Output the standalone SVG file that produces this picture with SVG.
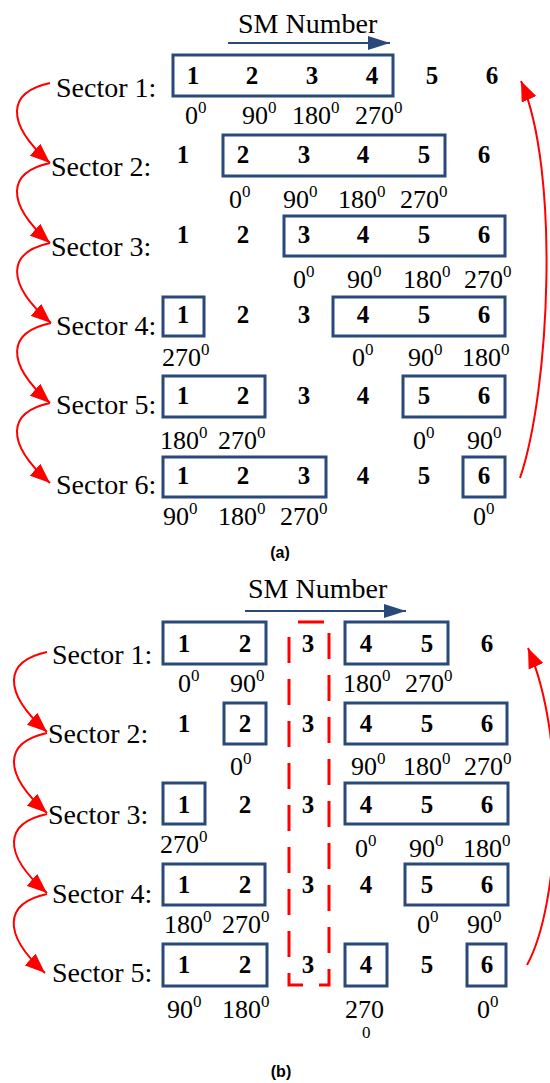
<svg xmlns="http://www.w3.org/2000/svg" width="550" height="1083" viewBox="0 0 550 1083">
<style>
.lbl{font-family:"Liberation Serif","Times New Roman",serif;font-size:28px;fill:#000}
.t{font-family:"Liberation Serif","Times New Roman",serif;font-size:28px;fill:#000}
.n{font-family:"Liberation Serif","Times New Roman",serif;font-size:25px;font-weight:bold;fill:#000;text-anchor:middle}
.g{font-family:"Liberation Serif","Times New Roman",serif;font-size:26px;fill:#000}
.s{font-size:17px}
.box{fill:none;stroke:#29497b;stroke-width:3}
.cap{font-family:"Liberation Sans",Arial,sans-serif;font-size:16px;font-weight:bold;fill:#000;text-anchor:middle}
.red{fill:none;stroke:#ff0000;stroke-width:2}
.blue{fill:none;stroke:#29497b;stroke-width:2}
</style>
<defs>
<marker id="ra" markerUnits="userSpaceOnUse" markerWidth="20" markerHeight="16" refX="20" refY="8" orient="auto">
<path d="M0,0 L20,8 L0,16 z" fill="#ff0000"/>
</marker>
<marker id="ba" markerUnits="userSpaceOnUse" markerWidth="22" markerHeight="14" refX="22" refY="7" orient="auto">
<path d="M0,0 L22,7 L0,14 z" fill="#29497b"/>
</marker>
</defs>

<!-- Part (a) -->
<g id="a-title">
<text class="t" x="238" y="33">SM Number</text>
</g>
<g id="a-row1">
<text class="lbl" x="56" y="97">Sector 1:</text>
<rect class="box" x="173" y="55" width="220" height="41"/>
<text class="n" x="193" y="84">1</text><text class="n" x="252" y="84">2</text><text class="n" x="312" y="84">3</text><text class="n" x="372" y="84">4</text><text class="n" x="432" y="84">5</text><text class="n" x="492" y="84">6</text>
<text class="g" x="185" y="124">0<tspan class="s" dy="-11">0</tspan></text>
<text class="g" x="242" y="124">90<tspan class="s" dy="-11">0</tspan></text>
<text class="g" x="292" y="124">180<tspan class="s" dy="-11">0</tspan></text>
<text class="g" x="355" y="124">270<tspan class="s" dy="-11">0</tspan></text>
</g>
<g id="a-row2">
<text class="lbl" x="51" y="176">Sector 2:</text>
<rect class="box" x="223" y="135" width="222" height="41"/>
<text class="n" x="183" y="163">1</text><text class="n" x="243" y="163">2</text><text class="n" x="304" y="163">3</text><text class="n" x="363" y="163">4</text><text class="n" x="424" y="163">5</text><text class="n" x="484" y="163">6</text>
<text class="g" x="229" y="208">0<tspan class="s" dy="-11">0</tspan></text>
<text class="g" x="283" y="208">90<tspan class="s" dy="-11">0</tspan></text>
<text class="g" x="338" y="208">180<tspan class="s" dy="-11">0</tspan></text>
<text class="g" x="400" y="208">270<tspan class="s" dy="-11">0</tspan></text>
</g>
<g id="a-row3">
<text class="lbl" x="51" y="256">Sector 3:</text>
<rect class="box" x="284" y="216" width="221" height="40"/>
<text class="n" x="183" y="243">1</text><text class="n" x="243" y="243">2</text><text class="n" x="304" y="243">3</text><text class="n" x="363" y="243">4</text><text class="n" x="424" y="243">5</text><text class="n" x="484" y="243">6</text>
<text class="g" x="293" y="288">0<tspan class="s" dy="-11">0</tspan></text>
<text class="g" x="347" y="288">90<tspan class="s" dy="-11">0</tspan></text>
<text class="g" x="403" y="288">180<tspan class="s" dy="-11">0</tspan></text>
<text class="g" x="464" y="288">270<tspan class="s" dy="-11">0</tspan></text>
</g>
<g id="a-row4">
<text class="lbl" x="56" y="335">Sector 4:</text>
<rect class="box" x="163" y="297" width="41" height="39"/>
<rect class="box" x="333" y="297" width="172" height="39"/>
<text class="n" x="183" y="323">1</text><text class="n" x="243" y="323">2</text><text class="n" x="304" y="323">3</text><text class="n" x="363" y="323">4</text><text class="n" x="424" y="323">5</text><text class="n" x="484" y="323">6</text>
<text class="g" x="162" y="366">270<tspan class="s" dy="-11">0</tspan></text>
<text class="g" x="352" y="366">0<tspan class="s" dy="-11">0</tspan></text>
<text class="g" x="408" y="366">90<tspan class="s" dy="-11">0</tspan></text>
<text class="g" x="462" y="366">180<tspan class="s" dy="-11">0</tspan></text>
</g>
<g id="a-row5">
<text class="lbl" x="56" y="414">Sector 5:</text>
<rect class="box" x="163" y="376" width="102" height="41"/>
<rect class="box" x="403" y="376" width="102" height="41"/>
<text class="n" x="183" y="404">1</text><text class="n" x="243" y="404">2</text><text class="n" x="304" y="404">3</text><text class="n" x="363" y="404">4</text><text class="n" x="424" y="404">5</text><text class="n" x="484" y="404">6</text>
<text class="g" x="160" y="449">180<tspan class="s" dy="-11">0</tspan></text>
<text class="g" x="218" y="449">270<tspan class="s" dy="-11">0</tspan></text>
<text class="g" x="413" y="449">0<tspan class="s" dy="-11">0</tspan></text>
<text class="g" x="467" y="449">90<tspan class="s" dy="-11">0</tspan></text>
</g>
<g id="a-row6">
<text class="lbl" x="56" y="494">Sector 6:</text>
<rect class="box" x="163" y="457" width="163" height="40"/>
<rect class="box" x="463" y="457" width="42" height="40"/>
<text class="n" x="183" y="484">1</text><text class="n" x="243" y="484">2</text><text class="n" x="304" y="484">3</text><text class="n" x="363" y="484">4</text><text class="n" x="424" y="484">5</text><text class="n" x="484" y="484">6</text>
<text class="g" x="163" y="525">90<tspan class="s" dy="-11">0</tspan></text>
<text class="g" x="218" y="525">180<tspan class="s" dy="-11">0</tspan></text>
<text class="g" x="280" y="525">270<tspan class="s" dy="-11">0</tspan></text>
<text class="g" x="473" y="525">0<tspan class="s" dy="-11">0</tspan></text>
</g>
<text class="cap" x="280" y="558">(a)</text>

<!-- Part (b) -->
<g id="b-title">
<text class="t" x="248" y="598">SM Number</text>
</g>
<g id="b-group3">
<rect x="289" y="622" width="40" height="363" fill="none" stroke="#ff0000" stroke-width="3" stroke-dasharray="26 16" stroke-dashoffset="33"/>
</g>
<g id="b-row1">
<text class="lbl" x="52" y="664">Sector 1:</text>
<rect class="box" x="163" y="622" width="103" height="42"/>
<rect class="box" x="345" y="622" width="103" height="42"/>
<text class="n" x="184" y="652">1</text><text class="n" x="245" y="652">2</text><text class="n" x="308" y="652">3</text><text class="n" x="366" y="652">4</text><text class="n" x="427" y="652">5</text><text class="n" x="487" y="652">6</text>
<text class="g" x="178" y="692">0<tspan class="s" dy="-11">0</tspan></text>
<text class="g" x="230" y="692">90<tspan class="s" dy="-11">0</tspan></text>
<text class="g" x="343" y="692">180<tspan class="s" dy="-11">0</tspan></text>
<text class="g" x="405" y="692">270<tspan class="s" dy="-11">0</tspan></text>
</g>
<g id="b-row2">
<text class="lbl" x="48" y="743">Sector 2:</text>
<rect class="box" x="224" y="703" width="42" height="41"/>
<rect class="box" x="345" y="703" width="162" height="41"/>
<text class="n" x="184" y="732">1</text><text class="n" x="245" y="732">2</text><text class="n" x="308" y="732">3</text><text class="n" x="366" y="732">4</text><text class="n" x="427" y="732">5</text><text class="n" x="487" y="732">6</text>
<text class="g" x="230" y="775">0<tspan class="s" dy="-11">0</tspan></text>
<text class="g" x="351" y="775">90<tspan class="s" dy="-11">0</tspan></text>
<text class="g" x="403" y="775">180<tspan class="s" dy="-11">0</tspan></text>
<text class="g" x="464" y="775">270<tspan class="s" dy="-11">0</tspan></text>
</g>
<g id="b-row3">
<text class="lbl" x="48" y="824">Sector 3:</text>
<rect class="box" x="163" y="783" width="42" height="41"/>
<rect class="box" x="345" y="783" width="163" height="41"/>
<text class="n" x="184" y="813">1</text><text class="n" x="245" y="813">2</text><text class="n" x="308" y="813">3</text><text class="n" x="366" y="813">4</text><text class="n" x="427" y="813">5</text><text class="n" x="487" y="813">6</text>
<text class="g" x="160" y="853">270<tspan class="s" dy="-11">0</tspan></text>
<text class="g" x="355" y="857">0<tspan class="s" dy="-11">0</tspan></text>
<text class="g" x="409" y="857">90<tspan class="s" dy="-11">0</tspan></text>
<text class="g" x="463" y="857">180<tspan class="s" dy="-11">0</tspan></text>
</g>
<g id="b-row4">
<text class="lbl" x="52" y="903">Sector 4:</text>
<rect class="box" x="163" y="864" width="102" height="41"/>
<rect class="box" x="405" y="864" width="103" height="41"/>
<text class="n" x="184" y="893">1</text><text class="n" x="245" y="893">2</text><text class="n" x="308" y="893">3</text><text class="n" x="366" y="893">4</text><text class="n" x="427" y="893">5</text><text class="n" x="487" y="893">6</text>
<text class="g" x="164" y="933">180<tspan class="s" dy="-11">0</tspan></text>
<text class="g" x="222" y="933">270<tspan class="s" dy="-11">0</tspan></text>
<text class="g" x="417" y="933">0<tspan class="s" dy="-11">0</tspan></text>
<text class="g" x="467" y="933">90<tspan class="s" dy="-11">0</tspan></text>
</g>
<g id="b-row5">
<text class="lbl" x="52" y="982">Sector 5:</text>
<rect class="box" x="163" y="944" width="104" height="42"/>
<rect class="box" x="345" y="944" width="42" height="42"/>
<rect class="box" x="467" y="944" width="39" height="42"/>
<text class="n" x="184" y="973">1</text><text class="n" x="245" y="973">2</text><text class="n" x="308" y="973">3</text><text class="n" x="366" y="973">4</text><text class="n" x="427" y="973">5</text><text class="n" x="487" y="973">6</text>
<text class="g" x="167" y="1018">90<tspan class="s" dy="-11">0</tspan></text>
<text class="g" x="222" y="1018">180<tspan class="s" dy="-11">0</tspan></text>
<text class="g" x="345" y="1018">270</text>
<text class="g s" x="362" y="1038">0</text>
<text class="g" x="477" y="1018">0<tspan class="s" dy="-11">0</tspan></text>
</g>
<text class="cap" x="281" y="1077">(b)</text>

<g id="connectors">
<line class="blue" x1="228" y1="43" x2="390" y2="43" marker-end="url(#ba)"/>
<line class="blue" x1="245" y1="611" x2="406" y2="611" marker-end="url(#ba)"/>
<path class="red" d="M50,83 C8,92 4,122 50,163" marker-end="url(#ra)"/>
<path class="red" d="M50,163 C8,172 4,202 50,243" marker-end="url(#ra)"/>
<path class="red" d="M50,243 C8,252 4,282 51,323" marker-end="url(#ra)"/>
<path class="red" d="M51,323 C8,332 4,362 50,403" marker-end="url(#ra)"/>
<path class="red" d="M50,403 C8,412 4,442 50,483" marker-end="url(#ra)"/>
<path class="red" d="M520,478 C550,390 560,170 521,81" marker-end="url(#ra)"/>
<path class="red" d="M47,652 C5,661 1,691 47,732" marker-end="url(#ra)"/>
<path class="red" d="M47,733 C5,742 1,772 47,813" marker-end="url(#ra)"/>
<path class="red" d="M47,814 C5,823 1,853 47,893" marker-end="url(#ra)"/>
<path class="red" d="M47,894 C5,903 1,933 45,973" marker-end="url(#ra)"/>
<path class="red" d="M527,965 C560,905 568,740 528,648" marker-end="url(#ra)"/>
</g>
</svg>
